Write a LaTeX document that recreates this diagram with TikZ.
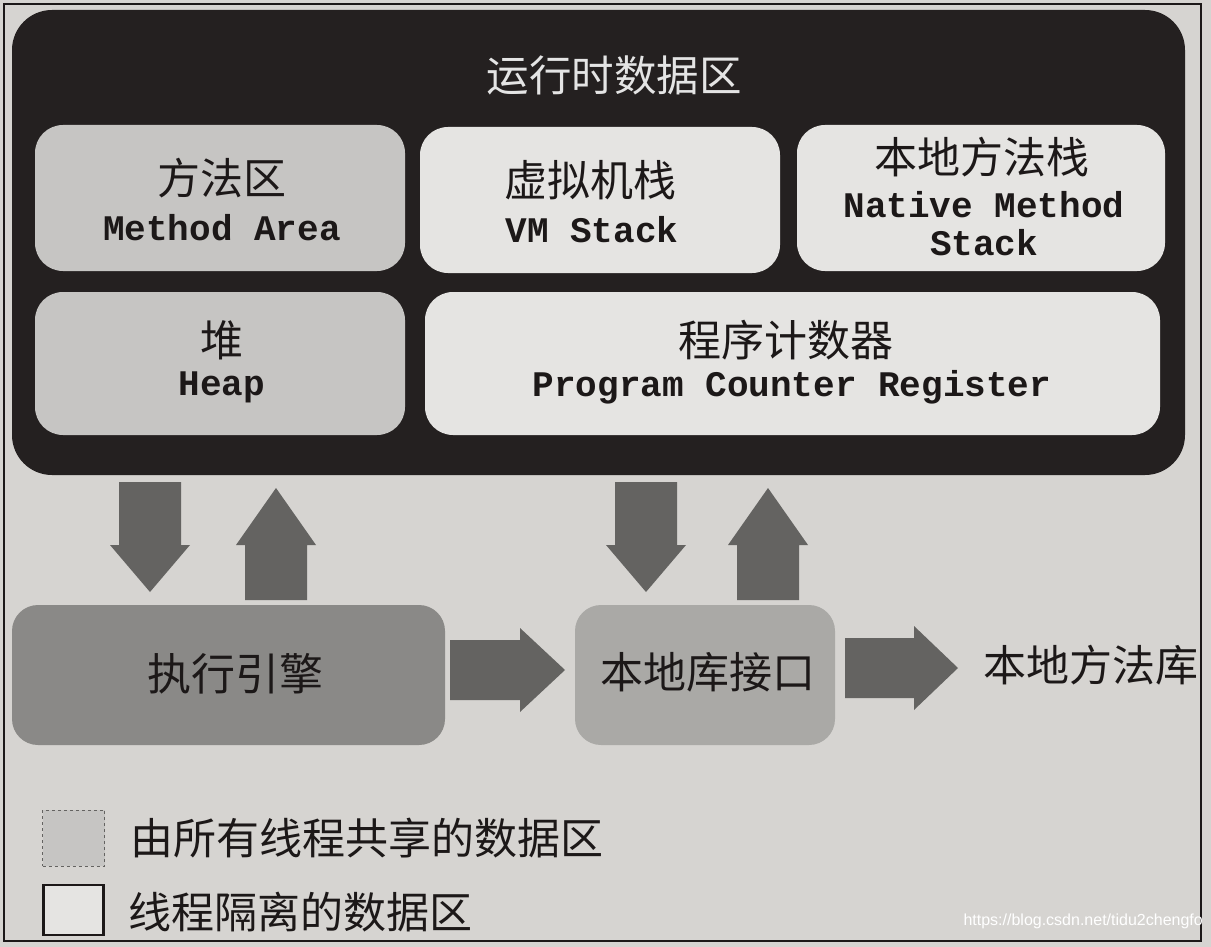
\documentclass[tikz,border=0pt]{standalone}
\usepackage{fontspec}
\newfontfamily\cn{Noto Sans CJK SC}
\newfontfamily\en{Liberation Mono}
\newfontfamily\wm{Liberation Sans}
\definecolor{pagec}{RGB}{214,212,209}
\definecolor{darkc}{RGB}{36,32,32}
\definecolor{sharedc}{RGB}{198,197,195}
\definecolor{privc}{RGB}{229,228,226}
\definecolor{enginec}{RGB}{138,137,135}
\definecolor{nativec}{RGB}{170,169,166}
\definecolor{arrowc}{RGB}{100,99,97}
\definecolor{inkc}{RGB}{28,24,24}
\definecolor{titlec}{RGB}{228,228,228}
\newcommand\ArrDown[4]{% cx, ytop, yhead, ytip
  \fill[blockarrow] ({#1-31},#2) -- ({#1+31},#2) -- ({#1+31},#3) -- ({#1+40},#3)
    -- (#1,#4) -- ({#1-40},#3) -- ({#1-31},#3) -- cycle;}
\newcommand\ArrUp[4]{% cx, ybottom, yhead, ytip
  \fill[blockarrow] ({#1-31},#2) -- ({#1+31},#2) -- ({#1+31},#3) -- ({#1+40},#3)
    -- (#1,#4) -- ({#1-40},#3) -- ({#1-31},#3) -- cycle;}
\newcommand\ArrRight[4]{% cy, xleft, xhead, xtip
  \fill[blockarrow] (#2,{#1-30}) -- (#2,{#1+30}) -- (#3,{#1+30}) -- (#3,{#1+42})
    -- (#4,#1) -- (#3,{#1-42}) -- (#3,{#1-30}) -- cycle;}
\begin{document}
\begin{tikzpicture}[x=1pt,y=-1pt,
  box/.style={rectangle, rounded corners=28pt, inner sep=0pt},
  sharedbox/.style={box, fill=sharedc},
  privbox/.style={box, fill=privc},
  cnlab/.style={text=inkc, font=\cn\fontsize{43}{47}\selectfont, inner sep=0pt},
  enlab/.style={text=inkc, font=\en\bfseries\fontsize{36}{40}\selectfont, inner sep=0pt},
  blockarrow/.style={fill=arrowc}
]
\fill[pagec] (0,0) rectangle (1211,947);
\useasboundingbox (0,0) rectangle (1211,947);
\draw[inkc, line width=1.5pt] (4,4) rectangle (1201,941);

% runtime data area
\node[box, fill=darkc, rounded corners=40pt, minimum width=1173pt, minimum height=465pt] (rt) at (598.5,242.5) {};
\node[text=titlec, font=\cn\fontsize{42.5}{46}\selectfont, inner sep=0pt] (title) at (614,75) {运行时数据区};

\node[sharedbox, minimum width=370pt, minimum height=146pt] (ma) at (220,198) {};
\node[cnlab] (ma-cn) at (222,178) {方法区};
\node[enlab] (ma-en) at (222,228) {Method Area};

\node[privbox, minimum width=360pt, minimum height=146pt] (vm) at (600,200) {};
\node[cnlab] (vm-cn) at (590,180) {虚拟机栈};
\node[enlab] (vm-en) at (592,230) {VM Stack};

\node[privbox, minimum width=368pt, minimum height=146pt] (ns) at (981,198) {};
\node[cnlab] (ns-cn) at (982,157) {本地方法栈};
\node[enlab] (ns-en1) at (984,205) {Native Method};
\node[enlab] (ns-en2) at (984,243) {Stack};

\node[sharedbox, minimum width=370pt, minimum height=143pt] (hp) at (220,363.5) {};
\node[cnlab] (hp-cn) at (222,340) {堆};
\node[enlab] (hp-en) at (222,387) {Heap};

\node[privbox, minimum width=735pt, minimum height=143pt] (pc) at (792.5,363.5) {};
\node[cnlab] (pc-cn) at (786,340) {程序计数器};
\node[enlab] (pc-en) at (792,387) {Program Counter Register};

% lower row
\node[box, fill=enginec, rounded corners=26pt, minimum width=433pt, minimum height=140pt] (ee) at (228.5,675) {};
\node[cnlab, font=\cn\fontsize{44}{48}\selectfont] (ee-cn) at (235,674) {执行引擎};

\node[box, fill=nativec, rounded corners=26pt, minimum width=260pt, minimum height=140pt] (ni) at (705,675) {};
\node[cnlab] (ni-cn) at (708,672) {本地库接口};

\node[cnlab] (nl) at (1091,665) {本地方法库};

% block arrows
\ArrDown{150}{482}{545}{592}
\ArrUp{276}{600}{545}{488}
\ArrDown{646}{482}{545}{592}
\ArrUp{768}{600}{545}{488}
\ArrRight{670}{450}{520}{565}
\ArrRight{668}{845}{914}{958}

% legend
\node[rectangle, fill=sharedc, draw=arrowc, dashed, line width=1pt, minimum width=62pt, minimum height=56pt, inner sep=0pt] (lg1) at (73.5,838) {};
\node[cnlab, anchor=west] (lg1-t) at (130,838) {由所有线程共享的数据区};
\node[rectangle, fill=privc, draw=inkc, line width=2.5pt, minimum width=60pt, minimum height=50pt, inner sep=0pt] (lg2) at (73.5,910) {};
\node[cnlab, anchor=west] (lg2-t) at (128,912) {线程隔离的数据区};

% watermark
\node[text=white, font=\wm\fontsize{16}{18}\selectfont, anchor=east, inner sep=0pt] (wmk) at (1203,921) {https://blog.csdn.net/tidu2chengfo};
\end{tikzpicture}
\end{document}
